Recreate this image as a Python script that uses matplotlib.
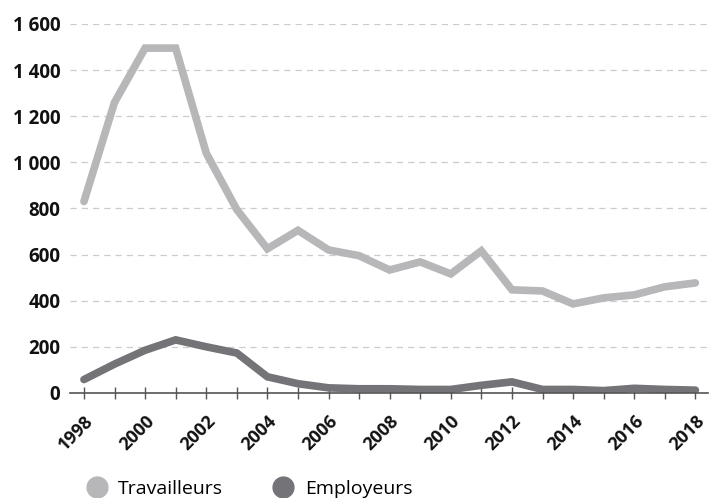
import matplotlib
matplotlib.use('Agg')
import matplotlib.pyplot as plt
from matplotlib.lines import Line2D
from matplotlib.ticker import FuncFormatter, MultipleLocator

plt.rcParams['font.family'] = ['Open Sans', 'DejaVu Sans']

# Data
years = list(range(1998, 2019))
travailleurs = [830, 1260, 1495, 1495, 1040, 795, 625, 705, 620, 595, 533,
                568, 516, 616, 447, 442, 386, 412, 425, 460, 477]
employeurs = [58, 125, 185, 230, 200, 173, 70, 40, 22, 18, 18,
              15, 15, 33, 48, 15, 15, 10, 20, 15, 12]
labels = ['Travailleurs', 'Employeurs']
colors = ['#b7b7ba', '#747478']

fig = plt.figure(figsize=(7.09, 4.98), dpi=100)
ax = fig.add_axes([0.099, 0.211, 0.899, 0.741])

ax.plot(years, travailleurs, color=colors[0], lw=5.5, solid_capstyle='round',
        solid_joinstyle='miter', zorder=3)
ax.plot(years, employeurs, color=colors[1], lw=5.5, solid_capstyle='round',
        solid_joinstyle='miter', zorder=3)

ax.set_xlim(1997.55, 2018.4)
ax.set_ylim(0, 1600)
ax.yaxis.set_major_locator(MultipleLocator(200))
ax.yaxis.set_major_formatter(FuncFormatter(lambda v, p: f'{int(v):,}'.replace(',', ' ')))
ax.grid(axis='y', color='#cccccc', linestyle=(0, (5, 4)), lw=0.9)
ax.set_axisbelow(True)

for s in ['top', 'right', 'left']:
    ax.spines[s].set_visible(False)
ax.spines['bottom'].set_color('#555555')
ax.spines['bottom'].set_linewidth(1.2)
ax.spines['bottom'].set_zorder(4)

ax.set_xticks(years[::2])
ax.set_xticks(years, minor=True)
ax.tick_params(axis='x', which='both', direction='inout', length=9, color='#555555', width=1)
ax.tick_params(axis='y', length=0, pad=7)
plt.setp(ax.get_xticklabels(), rotation=45, ha='right', rotation_mode='anchor',
         fontsize=13, fontweight='bold', color='#111111')
plt.setp(ax.get_yticklabels(), fontsize=13.5, fontweight='bold', color='#111111')
ax.tick_params(axis='x', pad=9)

handles = [Line2D([], [], marker='o', ls='none', ms=15, color=c) for c in colors]
fig.legend(handles, labels, loc='lower left', bbox_to_anchor=(0.098, -0.035), ncol=2,
           frameon=False, fontsize=14, handletextpad=0.6, columnspacing=2.6,
           handlelength=1.0)

fig.savefig('out.png', dpi=100)
